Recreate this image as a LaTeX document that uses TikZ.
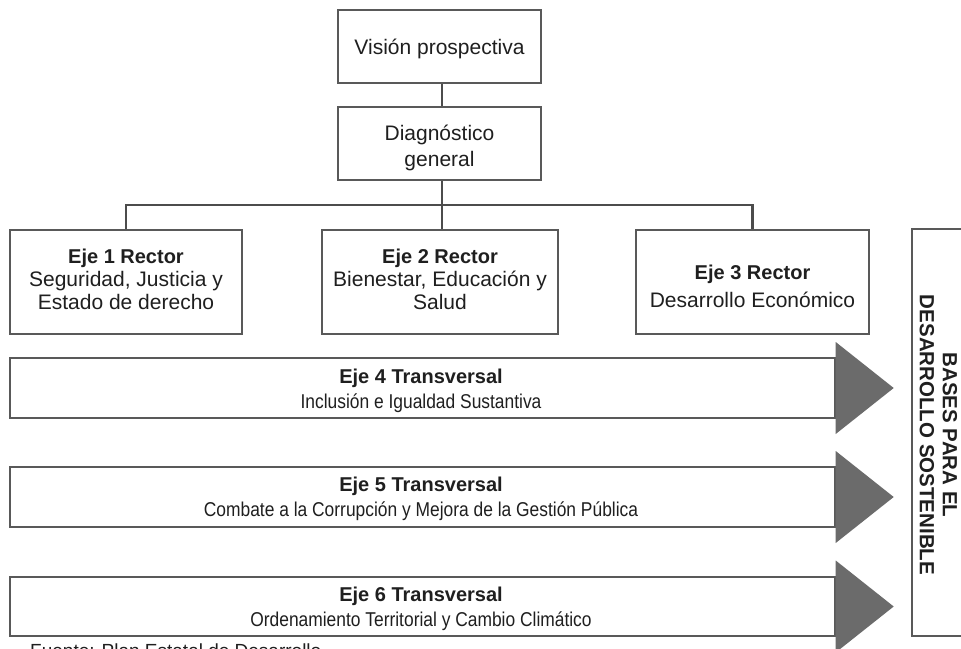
\documentclass[tikz,border=0pt]{standalone}
\usepackage{fontspec}
\setmainfont{Liberation Sans}
\newcommand{\narrowline}[1]{\scalebox{0.87}[1]{#1}}
\begin{document}
\begin{tikzpicture}[x=1pt,y=-1pt,
  boxline/.style={draw=black!65, line width=1.4pt},
  plainbox/.style={boxline, rectangle, inner sep=0pt},
  txt/.style={align=center, text=black!88, font=\fontsize{21}{23}\selectfont},
  bartxt/.style={align=center, text=black!88, font=\fontsize{20}{25}\selectfont},
  conn/.style={draw=black!70, line width=2.6pt},
  tri/.style={fill=black!58, draw=none}
]
\clip (0,0) rectangle (961,648);
\fill[white] (0,0) rectangle (961,648);

% top boxes
\node[plainbox, minimum width=203pt, minimum height=73pt] (vis) at (439.5,46.5) {};
\node[txt] (vist) at (439.5,48.5) {Visión prospectiva};
\node[plainbox, minimum width=203pt, minimum height=73pt] (diag) at (439.5,143.5) {};
\node[txt, font=\fontsize{21}{26}\selectfont] (diagt) at (439.5,147.5) {Diagnóstico\\general};

% rector boxes
\node[plainbox, minimum width=232pt, minimum height=104pt] (e1) at (126,282) {};
\node[plainbox, minimum width=236pt, minimum height=104pt] (e2) at (440,282) {};
\node[plainbox, minimum width=233pt, minimum height=104pt] (e3) at (752.5,282) {};
\node[txt] (e1t) at (126,279) {{\bfseries\fontsize{20}{23}\selectfont Eje 1 Rector}\\Seguridad, Justicia y\\Estado de derecho};
\node[txt] (e2t) at (440,279) {{\bfseries\fontsize{20}{23}\selectfont Eje 2 Rector}\\Bienestar, Educación y\\Salud};
\node[txt, font=\fontsize{21}{28}\selectfont] (e3t) at (752.5,286) {{\bfseries\fontsize{20}{28}\selectfont Eje 3 Rector}\\Desarrollo Económico};

% connectors
\coordinate (j) at (442,205);
\draw[conn] (vis.south -| j) -- (diag.north -| j);
\draw[conn] (diag.south -| j) -- (j);
\draw[conn] (e1.north) -- (e1.north |- j) -- (e3.north |- j) -- (e3.north);
\draw[conn] (j) -- (e2.north -| j);

% transversal bars
\node[plainbox, minimum width=825pt, minimum height=60pt] (t4) at (422.5,388) {};
\node[plainbox, minimum width=825pt, minimum height=60pt] (t5) at (422.5,497) {};
\node[plainbox, minimum width=825pt, minimum height=59pt] (t6) at (422.5,606.5) {};
\node[bartxt] (t4t) at (421,391) {\textbf{Eje 4 Transversal}\\\narrowline{Inclusión e Igualdad Sustantiva}};
\node[bartxt] (t5t) at (421,499) {\textbf{Eje 5 Transversal}\\\narrowline{Combate a la Corrupción y Mejora de la Gestión Pública}};
\node[bartxt] (t6t) at (421,609) {\textbf{Eje 6 Transversal}\\\narrowline{Ordenamiento Territorial y Cambio Climático}};

% arrow heads
\fill[tri] (t4.east) ++(0,-46) -- ++(58,46) -- ++(-58,46) -- cycle;
\fill[tri] (t5.east) ++(0,-46) -- ++(58,46) -- ++(-58,46) -- cycle;
\fill[tri] (t6.east) ++(0,-46) -- ++(58,46) -- ++(-58,46) -- cycle;

% side box
\node[plainbox, minimum width=62pt, minimum height=407pt] (side) at (943,432.5) {};
\node[txt, rotate=-90, font=\bfseries\fontsize{20.5}{23}\selectfont] (sidet) at (938.5,435) {BASES PARA EL\\DESARROLLO SOSTENIBLE};

% footer (cut off at the bottom edge, as in the reference)
\node[bartxt, anchor=base west, inner sep=0pt, font=\fontsize{19}{23}\selectfont] (src) at (30,657) {Fuente: Plan Estatal de Desarrollo};
\end{tikzpicture}
\end{document}
